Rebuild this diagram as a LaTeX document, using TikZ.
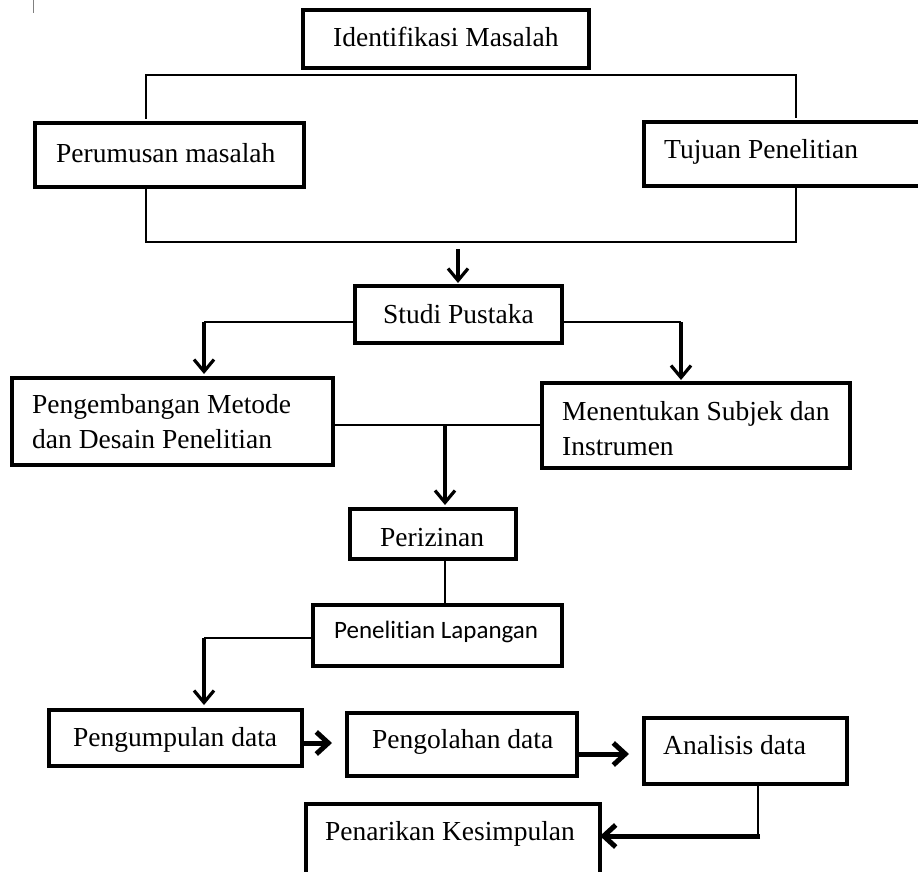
\documentclass[tikz,border=0pt]{standalone}
\usepackage{fontspec}
\setmainfont{Liberation Serif}
\newfontfamily\calibri[Ligatures=NoCommon]{Carlito}
\usetikzlibrary{arrows.meta}
\begin{document}
\begin{tikzpicture}[x=1pt,y=-1pt,
 box/.style={draw=black,line width=3.5pt,fill=white,anchor=north west,inner sep=0pt,outer sep=0pt},
 txt/.style={anchor=base west,inner sep=0pt,font=\fontsize{27.5}{32}\selectfont},
 ctxt/.style={anchor=base west,inner sep=0pt,font=\calibri\fontsize{25}{30}\selectfont},
 conn/.style={draw=black,line width=1.8pt},
 arrA/.style={draw=black,line width=3.2pt,-{Straight Barb[length=12pt,width=20pt]}},
 arrB/.style={draw=black,line width=5pt,-{Straight Barb[length=12pt,width=22pt]}},
]
\useasboundingbox (0,0) rectangle (918,872);
\clip (0,0) rectangle (918,872);
\fill[white] (0,0) rectangle (918,872);
\draw[gray,line width=1pt] (33,0) -- (33,13);

% boxes
\node[box,minimum width=286,minimum height=58] (idm) at (303,10) {};
\node[box,minimum width=269,minimum height=64] (per) at (35,123) {};
\node[box,minimum width=290,minimum height=64] (tuj) at (644,122) {};
\node[box,minimum width=207,minimum height=57] (stu) at (355,286) {};
\node[box,minimum width=321,minimum height=87] (peng) at (12,378) {};
\node[box,minimum width=308,minimum height=85] (men) at (542,383) {};
\node[box,minimum width=166,minimum height=50] (piz) at (350,509) {};
\node[box,minimum width=249,minimum height=61] (pl) at (313,605) {};
\node[box,minimum width=253,minimum height=56] (pd) at (49,710) {};
\node[box,minimum width=230,minimum height=63] (po) at (347,713) {};
\node[box,minimum width=203,minimum height=66] (ad) at (644,718) {};
\node[box,minimum width=294,minimum height=100] (pk) at (306,804) {};

% texts
\node[txt] (tidm) at (333,47) {Identifikasi Masalah};
\node[txt] (tper) at (56,162) {Perumusan masalah};
\node[txt] (ttuj) at (664,158) {Tujuan Penelitian};
\node[txt] (tstu) at (383,323) {Studi Pustaka};
\node[txt] (tpeng1) at (32,413) {Pengembangan Metode};
\node[txt] (tpeng2) at (32,448) {dan Desain Penelitian};
\node[txt] (tmen1) at (562,420) {Menentukan Subjek dan};
\node[txt] (tmen2) at (562,455) {Instrumen};
\node[txt] (tpiz) at (380,546) {Perizinan};
\node[ctxt] (tpl) at (334,638) {Penelitian Lapangan};
\node[txt] (tpd) at (73,746) {Pengumpulan data};
\node[txt] (tpo) at (372,748) {Pengolahan data};
\node[txt] (tad) at (663,754) {Analisis data};
\node[txt] (tpk) at (325,840) {Penarikan Kesimpulan};

% coordinates
\coordinate (b1) at (146,75);
\coordinate (b2) at (796,75);
\coordinate (b3) at (146,242);
\coordinate (b4) at (796,242);
\coordinate (a1) at (458,249);
\coordinate (s1) at (204,322);
\coordinate (s2) at (681,322);
\coordinate (m1) at (445,425);
\coordinate (p1) at (204,638);
\coordinate (q1) at (0,743);
\coordinate (q2) at (0,754);
\coordinate (r1) at (758,836);

% connectors
\draw[conn] ([yshift=4pt]per.north -| b1) -- (b1) -- (b2) -- ([yshift=4pt]tuj.north -| b2);
\draw[conn] (per.south -| b3) -- (b3) -- (b4) -- (tuj.south -| b4);
\draw[arrA] (a1) -- ([yshift=3pt]stu.north -| a1);
\draw[conn] (stu.west |- s1) -- (s1);
\draw[arrA] (s1) -- ([yshift=4pt]peng.north -| s1);
\draw[conn] (stu.east |- s2) -- (s2);
\draw[arrA] (s2) -- ([yshift=3pt]men.north -| s2);
\draw[conn] (peng.east |- m1) -- (men.west |- m1);
\draw[arrA] (m1) -- ([yshift=4pt]piz.north -| m1);
\draw[conn] (piz.south -| m1) -- (pl.north -| m1);
\draw[conn] (pl.west |- p1) -- (p1);
\draw[arrA] (p1) -- ([yshift=5pt]pd.north -| p1);
\draw[arrB] (pd.east |- q1) -- ([xshift=-15pt]po.west |- q1);
\draw[arrB] (po.east |- q2) -- ([xshift=-15pt]ad.west |- q2);
\draw[conn] (ad.south -| r1) -- (r1);
\draw[arrB] ([xshift=2pt]r1) -- (pk.east |- r1);
\end{tikzpicture}
\end{document}
